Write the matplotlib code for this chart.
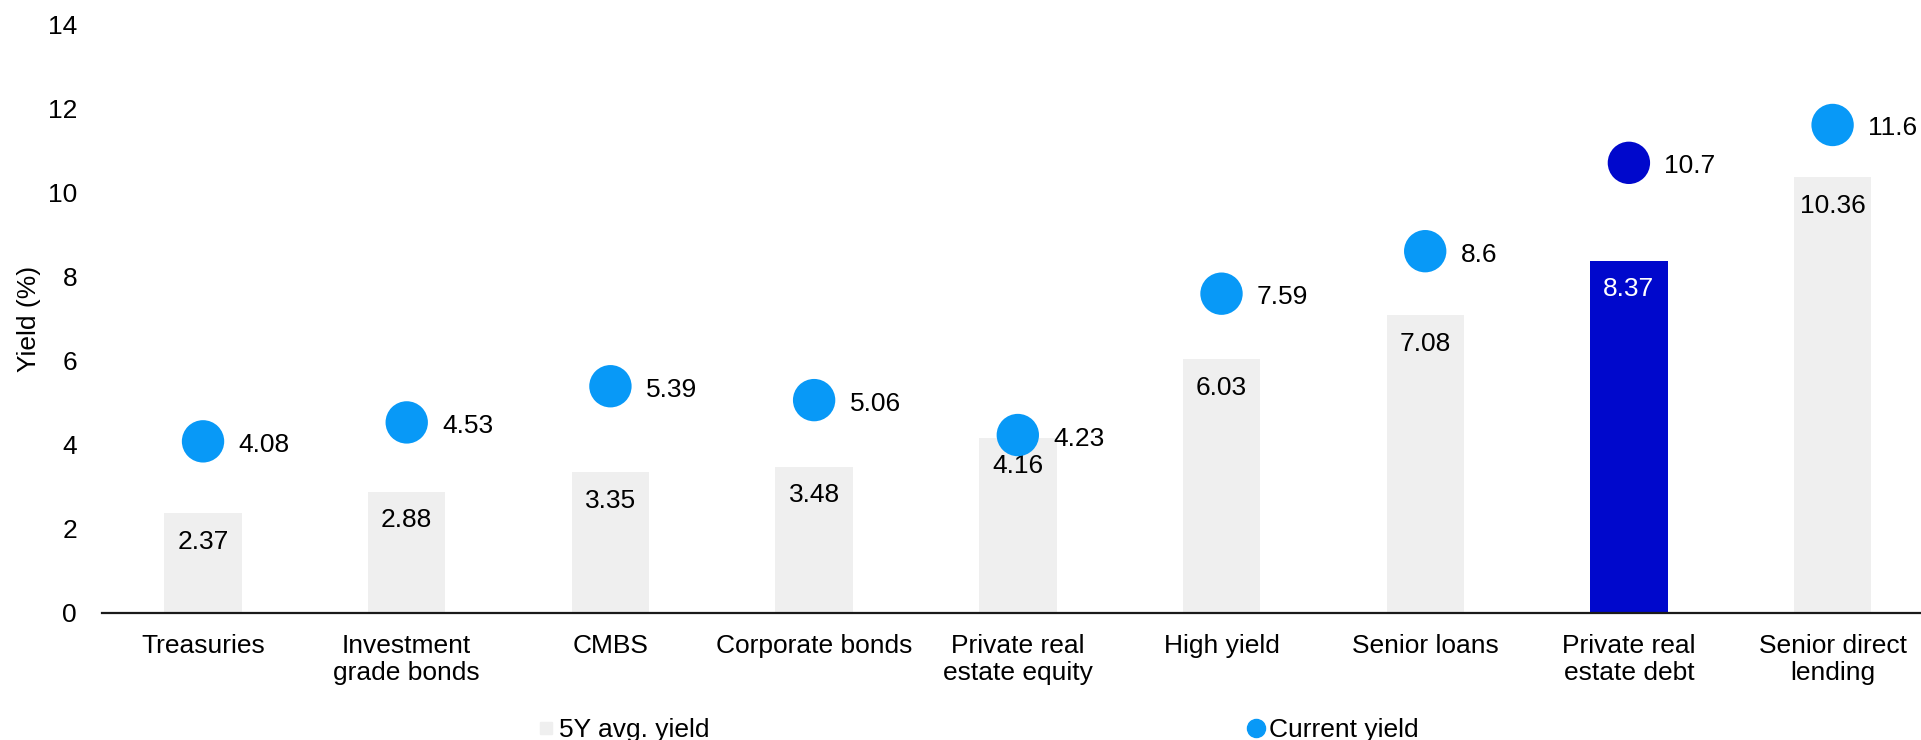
import matplotlib
matplotlib.use("Agg")
import matplotlib.pyplot as plt
from matplotlib.lines import Line2D

plt.rcParams['font.family'] = ['Liberation Sans', 'DejaVu Sans']

categories = ["Treasuries", "Investment\ngrade bonds", "CMBS", "Corporate bonds",
              "Private real\nestate equity", "High yield", "Senior loans",
              "Private real\nestate debt", "Senior direct\nlending"]
avg_yield = [2.37, 2.88, 3.35, 3.48, 4.16, 6.03, 7.08, 8.37, 10.36]
current_yield = [4.08, 4.53, 5.39, 5.06, 4.23, 7.59, 8.6, 10.7, 11.6]
highlight = "Private real\nestate debt"
yticks = [0, 2, 4, 6, 8, 10, 12, 14]

GRAY = "#EFEFEF"
DARK = "#0008CC"
LIGHT = "#0899F7"

fig = plt.figure(figsize=(19.21, 7.4), dpi=100)
ax = fig.add_axes([102/1921, 1 - 613/740, 1 - 102/1921, (613 - 24)/740])

x = list(range(len(categories)))
bar_colors = [DARK if c == highlight else GRAY for c in categories]
dot_colors = [DARK if c == highlight else LIGHT for c in categories]

ax.bar(x, avg_yield, width=0.38, color=bar_colors, zorder=1)
for xi, v, c in zip(x, avg_yield, categories):
    ax.annotate(f"{v:g}", (xi, v), xytext=(0, -20.5), textcoords="offset points",
                ha="center", va="center", fontsize=19,
                color="white" if c == highlight else "black", zorder=3)

ax.scatter(x, current_yield, s=30.5**2, c=dot_colors, zorder=4, linewidths=0)
for xi, v in zip(x, current_yield):
    ax.annotate(f"{v:g}", (xi, v), xytext=(25.5, -2.5), textcoords="offset points",
                ha="left", va="center", fontsize=19, color="black", zorder=5)

ax.set_xlim(-0.496, 8.434)
ax.set_ylim(0, 14)
ax.set_yticks(yticks)
ax.set_yticklabels([str(t) for t in yticks], fontsize=19)
ax.set_xticks(x)
ax.set_xticklabels(categories, fontsize=19, linespacing=1.15)
ax.tick_params(axis='y', length=0, pad=18)
ax.tick_params(axis='x', length=0, pad=15)
for s in ["top", "right", "left"]:
    ax.spines[s].set_visible(False)
ax.spines["bottom"].set_linewidth(1.6)
ax.spines["bottom"].set_color("#1a1a1a")
ax.set_ylabel("Yield (%)", fontsize=19)
ax.yaxis.set_label_coords(-0.0335, 0.5)

handles = [Line2D([], [], marker='s', linestyle='none', color=GRAY, markersize=9),
           Line2D([], [], marker='o', linestyle='none', color=LIGHT, markersize=13)]
fig.legend(handles, ["5Y avg. yield", "Current yield"], loc="center left",
           bbox_to_anchor=(538/1921, 10/740), ncol=2, frameon=False,
           fontsize=19, handlelength=0.6, handletextpad=0.2, columnspacing=20.4,
           borderpad=0, borderaxespad=0)

fig.savefig("out.png", dpi=100)
